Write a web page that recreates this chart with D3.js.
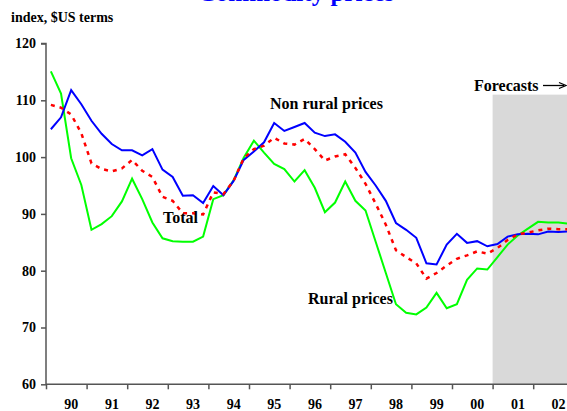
<!DOCTYPE html>
<html>
<head>
<meta charset="utf-8">
<script src="https://cdn.jsdelivr.net/npm/d3@7"></script>
<style>
  html, body { margin: 0; padding: 0; background: #fff; overflow: hidden; }
  svg { display: block; }
  text { font-family: "Liberation Serif", "Times New Roman", serif; font-weight: bold; }
</style>
</head>
<body>
<svg id="chart" width="567" height="411"></svg>
<script>
// ---- Data (quarterly, 1990 Q1 .. 2002 Q4) ----
const startYear = 1990;
const yearLabels = ["90","91","92","93","94","95","96","97","98","99","00","01","02"];
const yTicks = [60, 70, 80, 90, 100, 110, 120];

const ruralPrices = [
  115.1, 111.2, 99.8, 95.1,  87.2, 88.2, 89.6, 92.2,  96.2, 92.6, 88.5, 85.7,
  85.2, 85.1, 85.1, 86.0,  92.6, 93.3, 95.9, 99.9,  102.9, 100.8, 98.8, 97.9,
  95.7, 97.7, 94.6, 90.3,  92.0, 95.7, 92.3, 90.6,  85.1, 79.6, 74.1, 72.6,
  72.3, 73.5, 76.1, 73.4,  74.1, 78.4, 80.4, 80.2,  82.4, 84.6, 86.2, 87.4,
  88.6, 88.5, 88.5, 88.3
];
const nonRuralPrices = [
  104.9, 107.0, 111.8, 109.3,  106.4, 104.1, 102.3, 101.2,  101.2, 100.3, 101.4, 97.8,
  96.5, 93.2, 93.3, 91.9,  94.9, 93.3, 95.8, 99.5,  101.0, 102.6, 106.0, 104.6,
  105.3, 106.0, 104.3, 103.7,  104.0, 102.7, 100.8, 97.4,  95.0, 92.3, 88.4, 87.2,
  85.8, 81.3, 81.1, 84.6,  86.5, 84.9, 85.2, 84.3,  84.7, 86.0, 86.4, 86.5,
  86.4, 86.9, 86.8, 86.9
];
const totalPrices = [
  109.2, 108.7, 107.5, 104.2,  98.9, 97.9, 97.5, 98.0,  99.5, 97.6, 96.5, 93.0,
  92.3, 90.1, 90.1, 89.9,  93.8, 93.5, 95.8, 99.8,  101.4, 102.0, 103.4, 102.4,
  102.2, 103.2, 101.4, 99.4,  100.1, 100.5, 98.1, 95.3,  91.8, 88.1, 83.6, 82.4,
  81.3, 78.6, 79.6, 80.9,  82.1, 82.7, 83.4, 83.0,  84.0, 85.4, 86.4, 86.7,
  87.1, 87.4, 87.3, 87.3
];
const forecastStart = 2001;
const forecastTop = 111;

// ---- Layout ----
const svg = d3.select("#chart");
const x = d3.scaleLinear().domain([1990, 2003]).range([46, 46 + 13 * 40.6]);
const y = d3.scaleLinear().domain([60, 120]).range([384.3, 43.5]);
const tOf = i => startYear + (i + 0.48) / 4;

// Title (clipped at top in the reference)
svg.append("text")
  .attr("x", 296).attr("y", 0.5)
  .attr("text-anchor", "middle")
  .attr("font-size", 25)
  .attr("fill", "#0000ff")
  .text("Commodity prices");

svg.append("text")
  .attr("x", 11).attr("y", 21.5)
  .attr("font-size", 14)
  .attr("fill", "#000")
  .text("index, $US terms");

// Forecast shading
svg.append("rect")
  .attr("x", x(forecastStart))
  .attr("y", y(forecastTop))
  .attr("width", x(2003) - x(forecastStart))
  .attr("height", y(60) - y(forecastTop))
  .attr("fill", "#d9d9d9");

// Axes
const axisColor = "#555";
const yAxis = d3.axisLeft(y).tickValues(yTicks).tickSize(5).tickPadding(5).tickFormat(d3.format("d"));
const gy = svg.append("g").attr("transform", `translate(${x(1990)},0)`).call(yAxis);
gy.select(".domain").attr("stroke", axisColor).attr("stroke-width", 1.5).attr("d", `M-5,${y(120)}H0V${y(60)}`);
gy.selectAll(".tick line").attr("stroke", axisColor).attr("stroke-width", 1.5);
gy.selectAll(".tick text").attr("font-size", 14).attr("fill", "#000")
  .style("font-family", "'Liberation Serif', serif").style("font-weight", "bold");

const yearBounds = d3.range(1990, 2004);
const xAxis = d3.axisBottom(x).tickValues(yearBounds).tickSize(5).tickFormat("");
const gx = svg.append("g").attr("transform", `translate(0,${y(60)})`).call(xAxis);
gx.select(".domain").attr("stroke", axisColor).attr("stroke-width", 1.5).attr("d", `M${x(1990)},0H${x(2003)}`);
gx.selectAll(".tick line").attr("stroke", axisColor).attr("stroke-width", 1.5);

svg.append("g").selectAll("text")
  .data(yearLabels)
  .join("text")
  .attr("x", (d, i) => x(startYear + i + 0.5) + 5)
  .attr("y", 409)
  .attr("text-anchor", "middle")
  .attr("font-size", 14)
  .attr("fill", "#000")
  .text(d => d);

// Lines
const line = d3.line().x((d, i) => x(tOf(i))).y(d => y(d));
svg.append("path").datum(ruralPrices).attr("d", line)
  .attr("fill", "none").attr("stroke", "#00ff00").attr("stroke-width", 2);
svg.append("path").datum(nonRuralPrices).attr("d", line)
  .attr("fill", "none").attr("stroke", "#0000ff").attr("stroke-width", 2);
svg.append("path").datum(totalPrices).attr("d", line)
  .attr("fill", "none").attr("stroke", "#ff0000").attr("stroke-width", 2.5)
  .attr("stroke-dasharray", "4,5");

// Annotations
const ann = [
  { t: "Non rural prices", x: 270, y: 109 },
  { t: "Total", x: 163, y: 223 },
  { t: "Rural prices", x: 308, y: 304 },
  { t: "Forecasts", x: 474, y: 91 }
];
svg.append("g").selectAll("text").data(ann).join("text")
  .attr("x", d => d.x).attr("y", d => d.y)
  .attr("font-size", 16).attr("fill", "#000")
  .text(d => d.t);

// Arrow after "Forecasts"
svg.append("line").attr("x1", 543).attr("y1", 85.5).attr("x2", 564).attr("y2", 85.5)
  .attr("stroke", "#000").attr("stroke-width", 1.3);
svg.append("path").attr("d", "M559,82.5 L566,85.5 L559,88.5")
  .attr("fill", "none").attr("stroke", "#000").attr("stroke-width", 1.3);
</script>
</body>
</html>
